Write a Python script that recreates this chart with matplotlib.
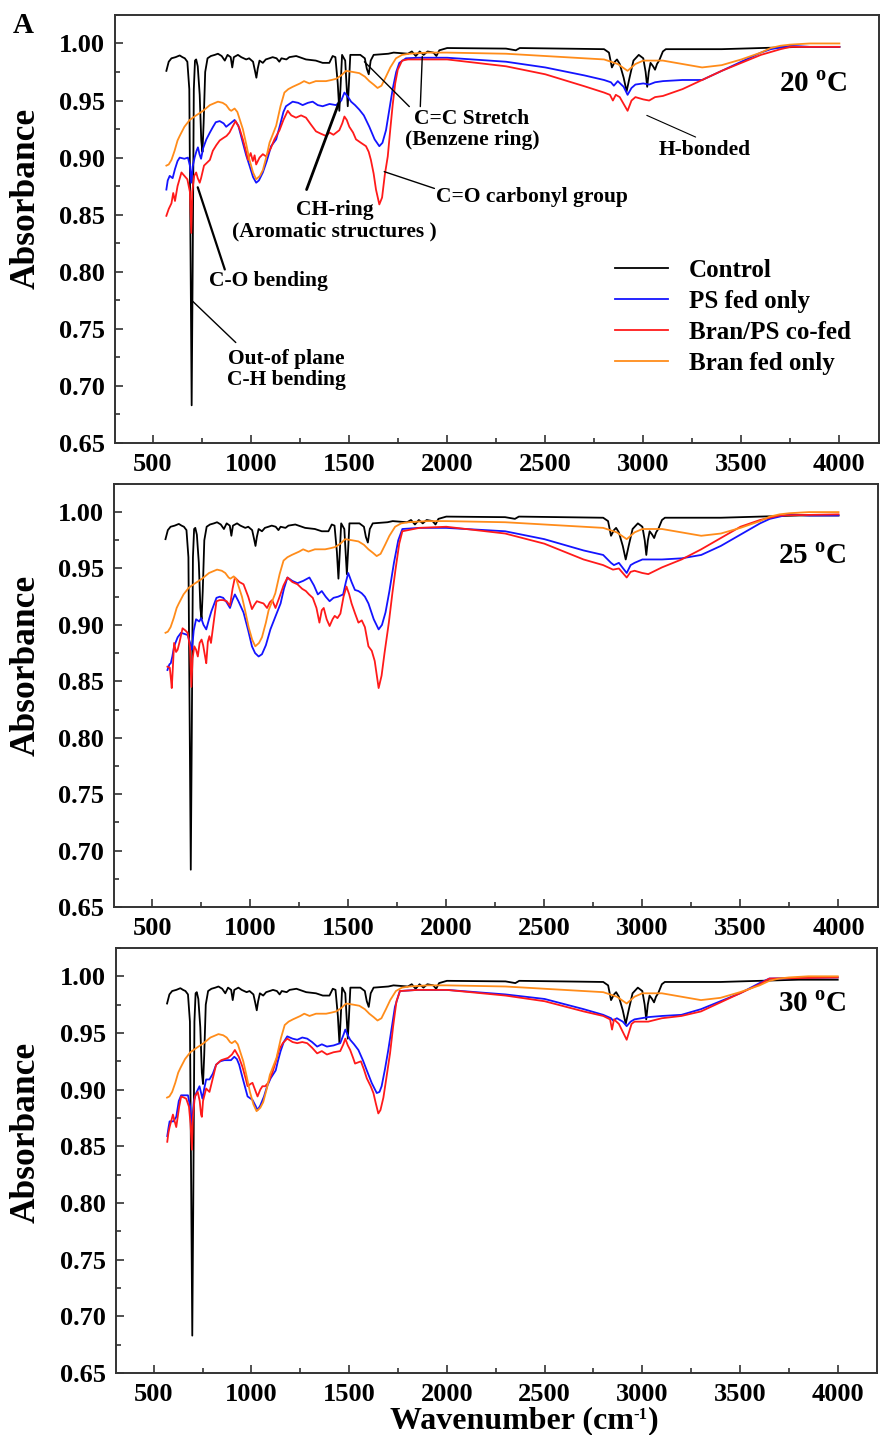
import numpy as np
import matplotlib
matplotlib.use('Agg')
import matplotlib.pyplot as plt
from matplotlib.ticker import MultipleLocator

plt.rcParams['font.family'] = ['Liberation Serif', 'DejaVu Serif']
plt.rcParams['font.weight'] = 'bold'
plt.rcParams['mathtext.fontset'] = 'custom'
plt.rcParams['mathtext.rm'] = 'Liberation Serif:bold'
plt.rcParams['mathtext.bf'] = 'Liberation Serif:bold'

# --- spectra: (wavenumber, absorbance) ---
control = np.array([
    [568, 0.976], [580, 0.984], [594, 0.987], [615, 0.988], [636, 0.9895], [650, 0.988],
    [662, 0.987], [675, 0.984], [685, 0.960], [692, 0.80], [697, 0.683], [702, 0.80],
    [708, 0.960], [714, 0.985], [720, 0.986], [728, 0.980], [738, 0.955], [746, 0.915],
    [752, 0.905], [758, 0.930], [766, 0.975], [778, 0.987], [795, 0.989], [815, 0.990],
    [831, 0.991], [850, 0.989], [866, 0.985], [880, 0.990], [896, 0.988], [904, 0.979],
    [912, 0.988], [933, 0.990], [950, 0.988], [975, 0.986], [990, 0.987], [1010, 0.984],
    [1020, 0.976], [1027, 0.970], [1034, 0.978], [1043, 0.985], [1060, 0.983], [1075, 0.986],
    [1093, 0.987], [1110, 0.988], [1130, 0.987], [1144, 0.984], [1155, 0.987], [1180, 0.986],
    [1195, 0.988], [1230, 0.989], [1280, 0.986], [1330, 0.985], [1365, 0.983], [1399, 0.983],
    [1416, 0.989], [1430, 0.988], [1442, 0.965], [1450, 0.941], [1457, 0.965], [1464, 0.990],
    [1480, 0.985], [1488, 0.960], [1493, 0.945], [1499, 0.965], [1506, 0.990], [1530, 0.990],
    [1557, 0.990], [1580, 0.987], [1590, 0.978], [1600, 0.973], [1610, 0.985], [1625, 0.990],
    [1700, 0.991], [1727, 0.992], [1800, 0.991], [1820, 0.993], [1840, 0.989], [1860, 0.993],
    [1880, 0.990], [1900, 0.993], [1930, 0.992], [1945, 0.989], [1960, 0.994], [2000, 0.996],
    [2300, 0.9955], [2350, 0.994], [2370, 0.996], [2800, 0.995], [2825, 0.992], [2840, 0.979],
    [2855, 0.984], [2866, 0.986], [2880, 0.982], [2900, 0.970], [2915, 0.958], [2930, 0.970],
    [2950, 0.985], [2977, 0.990], [3000, 0.987], [3012, 0.975], [3020, 0.962], [3028, 0.975],
    [3037, 0.983], [3050, 0.980], [3060, 0.977], [3070, 0.982], [3081, 0.985], [3100, 0.993],
    [3115, 0.995], [3400, 0.995], [3600, 0.996], [3800, 0.997], [4000, 0.997],
])

bran_only = np.array([
    [568, 0.893], [580, 0.894], [594, 0.898], [610, 0.906], [625, 0.915], [636, 0.919],
    [660, 0.927], [687, 0.933], [720, 0.937], [755, 0.941], [790, 0.946], [831, 0.949],
    [855, 0.948], [873, 0.946], [890, 0.942], [899, 0.941], [916, 0.943], [930, 0.940],
    [958, 0.925], [975, 0.912], [992, 0.898], [1010, 0.887], [1026, 0.881], [1045, 0.884],
    [1060, 0.889], [1080, 0.902], [1094, 0.913], [1110, 0.920], [1128, 0.928], [1150, 0.945],
    [1170, 0.957], [1190, 0.960], [1212, 0.962], [1250, 0.965], [1270, 0.967], [1297, 0.965],
    [1330, 0.967], [1382, 0.967], [1410, 0.968], [1433, 0.969], [1460, 0.972], [1484, 0.976],
    [1520, 0.975], [1552, 0.974], [1580, 0.971], [1603, 0.967], [1625, 0.964], [1645, 0.961],
    [1665, 0.963], [1688, 0.971], [1710, 0.979], [1739, 0.987], [1770, 0.990], [1807, 0.991],
    [1900, 0.992], [2000, 0.992], [2300, 0.991], [2500, 0.989], [2700, 0.987], [2800, 0.986],
    [2870, 0.982], [2920, 0.976], [2960, 0.982], [3000, 0.985], [3100, 0.985], [3200, 0.982],
    [3300, 0.979], [3400, 0.981], [3500, 0.986], [3600, 0.992], [3650, 0.996], [3700, 0.998],
    [3750, 0.999], [3850, 1.000], [4000, 1.000],
])

ps_20 = np.array([
    [568, 0.872], [575, 0.880], [585, 0.884], [600, 0.882], [612, 0.890], [625, 0.897],
    [636, 0.900], [660, 0.899], [678, 0.900], [688, 0.893], [695, 0.878], [702, 0.892],
    [712, 0.900], [722, 0.906], [729, 0.909], [737, 0.903], [745, 0.899], [755, 0.908],
    [772, 0.916], [790, 0.922], [806, 0.927], [820, 0.931], [840, 0.932], [860, 0.930],
    [873, 0.927], [895, 0.930], [916, 0.933], [935, 0.928], [958, 0.913], [975, 0.902],
    [992, 0.893], [1010, 0.883], [1026, 0.878], [1040, 0.880], [1060, 0.887], [1080, 0.897],
    [1102, 0.910], [1115, 0.913], [1128, 0.916], [1150, 0.930], [1165, 0.940], [1178, 0.945],
    [1195, 0.947], [1212, 0.949], [1240, 0.948], [1263, 0.946], [1290, 0.948], [1314, 0.949],
    [1340, 0.946], [1365, 0.945], [1400, 0.947], [1433, 0.946], [1460, 0.950], [1476, 0.957],
    [1495, 0.953], [1510, 0.949], [1530, 0.946], [1552, 0.942], [1575, 0.937], [1603, 0.927],
    [1630, 0.916], [1654, 0.910], [1670, 0.913], [1688, 0.924], [1705, 0.942], [1722, 0.960],
    [1740, 0.975], [1756, 0.983], [1790, 0.987], [1850, 0.9875], [2000, 0.9875], [2300, 0.984],
    [2500, 0.979], [2700, 0.972], [2800, 0.968], [2835, 0.966], [2850, 0.963], [2870, 0.967],
    [2900, 0.962], [2920, 0.955], [2940, 0.961], [2960, 0.964], [3000, 0.965], [3030, 0.964],
    [3060, 0.966], [3100, 0.967], [3200, 0.968], [3300, 0.968], [3400, 0.976], [3500, 0.984],
    [3600, 0.992], [3650, 0.995], [3750, 0.998], [3850, 0.997], [4000, 0.997],
])

cofed_20 = np.array([
    [568, 0.849], [580, 0.855], [594, 0.860], [603, 0.869], [612, 0.862], [625, 0.875],
    [645, 0.887], [660, 0.884], [675, 0.881], [688, 0.870], [695, 0.834], [700, 0.870],
    [710, 0.884], [720, 0.887], [728, 0.882], [738, 0.878], [745, 0.882], [760, 0.893],
    [772, 0.895], [790, 0.898], [805, 0.906], [823, 0.911], [840, 0.915], [857, 0.917],
    [875, 0.919], [890, 0.922], [905, 0.927], [921, 0.932], [940, 0.926], [958, 0.916],
    [975, 0.905], [984, 0.898], [998, 0.904], [1009, 0.897], [1018, 0.902], [1026, 0.894],
    [1043, 0.900], [1060, 0.903], [1077, 0.901], [1100, 0.908], [1119, 0.916], [1145, 0.924],
    [1165, 0.933], [1187, 0.941], [1205, 0.937], [1229, 0.935], [1255, 0.937], [1280, 0.935],
    [1305, 0.929], [1331, 0.923], [1355, 0.921], [1382, 0.919], [1400, 0.922], [1420, 0.920],
    [1450, 0.924], [1465, 0.930], [1476, 0.936], [1488, 0.933], [1501, 0.927], [1520, 0.922],
    [1535, 0.916], [1560, 0.913], [1586, 0.910], [1600, 0.905], [1611, 0.898], [1625, 0.886],
    [1637, 0.872], [1654, 0.859], [1668, 0.865], [1682, 0.885], [1697, 0.901], [1710, 0.925],
    [1722, 0.946], [1735, 0.965], [1748, 0.977], [1770, 0.985], [1800, 0.986], [2000, 0.986],
    [2300, 0.980], [2500, 0.973], [2700, 0.9625], [2800, 0.957], [2830, 0.955], [2845, 0.950],
    [2860, 0.955], [2880, 0.953], [2920, 0.941], [2940, 0.950], [2960, 0.953], [3000, 0.951],
    [3030, 0.950], [3060, 0.953], [3100, 0.954], [3200, 0.960], [3300, 0.968], [3400, 0.976],
    [3500, 0.983], [3600, 0.990], [3700, 0.995], [3750, 0.997], [4000, 0.997],
])

ps_25 = np.array([
    [578, 0.860], [588, 0.865], [595, 0.866], [603, 0.872], [612, 0.881], [630, 0.889],
    [647, 0.893], [665, 0.892], [681, 0.891], [692, 0.885], [703, 0.878], [712, 0.895],
    [724, 0.905], [740, 0.903], [750, 0.906], [762, 0.900], [776, 0.896], [790, 0.905],
    [802, 0.912], [815, 0.918], [828, 0.924], [845, 0.925], [862, 0.924], [880, 0.920],
    [897, 0.915], [910, 0.922], [922, 0.927], [940, 0.921], [966, 0.911], [990, 0.895],
    [1009, 0.881], [1025, 0.875], [1043, 0.872], [1060, 0.874], [1080, 0.882], [1103, 0.896],
    [1130, 0.908], [1155, 0.919], [1172, 0.932], [1190, 0.942], [1215, 0.939], [1241, 0.937],
    [1270, 0.939], [1302, 0.942], [1325, 0.935], [1345, 0.927], [1365, 0.930], [1385, 0.925],
    [1405, 0.921], [1425, 0.924], [1448, 0.925], [1474, 0.927], [1488, 0.938], [1500, 0.946],
    [1517, 0.938], [1534, 0.931], [1552, 0.930], [1569, 0.928], [1585, 0.925], [1603, 0.919],
    [1630, 0.905], [1655, 0.896], [1672, 0.900], [1690, 0.911], [1710, 0.930], [1733, 0.955],
    [1755, 0.975], [1776, 0.985], [1862, 0.986], [2000, 0.986], [2300, 0.983], [2500, 0.976],
    [2700, 0.966], [2800, 0.962], [2840, 0.955], [2855, 0.953], [2880, 0.955], [2920, 0.946],
    [2940, 0.953], [2960, 0.955], [3000, 0.958], [3100, 0.958], [3200, 0.959], [3300, 0.962],
    [3400, 0.970], [3500, 0.980], [3600, 0.990], [3650, 0.994], [3750, 0.998], [3850, 0.997],
    [4000, 0.997],
])

cofed_25 = np.array([
    [578, 0.863], [590, 0.862], [597, 0.850], [600, 0.844], [605, 0.860], [612, 0.884],
    [622, 0.876], [630, 0.878], [640, 0.885], [655, 0.897], [670, 0.895], [681, 0.893],
    [693, 0.880], [700, 0.845], [706, 0.870], [715, 0.881], [724, 0.878], [733, 0.872],
    [742, 0.884], [752, 0.887], [760, 0.882], [770, 0.872], [776, 0.866], [784, 0.885],
    [792, 0.890], [800, 0.884], [812, 0.900], [828, 0.921], [845, 0.922], [862, 0.922],
    [880, 0.921], [897, 0.917], [910, 0.932], [922, 0.942], [945, 0.938], [966, 0.936],
    [990, 0.925], [1009, 0.914], [1022, 0.918], [1034, 0.921], [1050, 0.920], [1068, 0.919],
    [1086, 0.915], [1100, 0.920], [1112, 0.922], [1129, 0.915], [1150, 0.925], [1170, 0.935],
    [1190, 0.942], [1215, 0.938], [1241, 0.936], [1265, 0.932], [1284, 0.930], [1300, 0.927],
    [1319, 0.924], [1338, 0.915], [1353, 0.902], [1365, 0.913], [1375, 0.915], [1390, 0.905],
    [1405, 0.899], [1420, 0.905], [1431, 0.908], [1445, 0.906], [1460, 0.910], [1476, 0.925],
    [1491, 0.934], [1505, 0.927], [1517, 0.919], [1535, 0.910], [1552, 0.902], [1569, 0.904],
    [1585, 0.898], [1603, 0.881], [1620, 0.877], [1635, 0.868], [1655, 0.844], [1670, 0.855],
    [1685, 0.875], [1707, 0.902], [1725, 0.928], [1741, 0.949], [1760, 0.972], [1776, 0.983],
    [1862, 0.986], [2000, 0.987], [2300, 0.981], [2500, 0.972], [2700, 0.958], [2800, 0.953],
    [2850, 0.949], [2880, 0.950], [2920, 0.942], [2940, 0.947], [2960, 0.948], [3000, 0.946],
    [3030, 0.945], [3100, 0.951], [3200, 0.958], [3300, 0.967], [3400, 0.977], [3500, 0.987],
    [3600, 0.993], [3700, 0.997], [4000, 0.998],
])

ps_30 = np.array([
    [569, 0.859], [575, 0.866], [581, 0.872], [600, 0.872], [615, 0.876], [628, 0.890],
    [640, 0.895], [660, 0.895], [675, 0.895], [686, 0.885], [695, 0.869], [705, 0.890],
    [717, 0.897], [734, 0.903], [745, 0.895], [750, 0.892], [757, 0.900], [768, 0.909],
    [785, 0.909], [802, 0.914], [819, 0.922], [840, 0.925], [861, 0.926], [895, 0.926],
    [912, 0.929], [925, 0.927], [937, 0.922], [955, 0.910], [980, 0.894], [1005, 0.891],
    [1020, 0.886], [1031, 0.882], [1045, 0.886], [1064, 0.894], [1080, 0.903], [1098, 0.910],
    [1124, 0.917], [1135, 0.925], [1149, 0.934], [1165, 0.942], [1183, 0.947], [1210, 0.945],
    [1234, 0.944], [1260, 0.946], [1285, 0.945], [1310, 0.942], [1336, 0.938], [1360, 0.940],
    [1386, 0.938], [1420, 0.939], [1454, 0.941], [1470, 0.948], [1480, 0.953], [1493, 0.948],
    [1505, 0.944], [1525, 0.940], [1547, 0.935], [1570, 0.926], [1590, 0.917], [1615, 0.906],
    [1641, 0.897], [1655, 0.898], [1666, 0.903], [1683, 0.918], [1700, 0.935], [1718, 0.955],
    [1734, 0.973], [1759, 0.987], [1850, 0.988], [2000, 0.988], [2300, 0.984], [2500, 0.980],
    [2700, 0.971], [2800, 0.966], [2840, 0.963], [2850, 0.961], [2870, 0.963], [2900, 0.960],
    [2920, 0.956], [2940, 0.960], [2960, 0.962], [3030, 0.964], [3100, 0.965], [3200, 0.966],
    [3300, 0.971], [3400, 0.978], [3500, 0.985], [3600, 0.994], [3650, 0.998], [4000, 0.999],
])

cofed_30 = np.array([
    [569, 0.854], [575, 0.862], [581, 0.867], [598, 0.878], [607, 0.872], [615, 0.867],
    [630, 0.885], [640, 0.894], [655, 0.893], [666, 0.892], [680, 0.885], [688, 0.870],
    [695, 0.847], [700, 0.875], [710, 0.894], [725, 0.898], [735, 0.890], [742, 0.878],
    [746, 0.876], [752, 0.890], [768, 0.901], [785, 0.898], [795, 0.905], [819, 0.922],
    [845, 0.926], [880, 0.928], [900, 0.931], [915, 0.935], [935, 0.929], [954, 0.920],
    [970, 0.910], [980, 0.903], [995, 0.905], [1005, 0.906], [1018, 0.900], [1031, 0.894],
    [1045, 0.900], [1056, 0.903], [1070, 0.903], [1085, 0.906], [1107, 0.915], [1125, 0.925],
    [1141, 0.935], [1160, 0.941], [1183, 0.945], [1210, 0.942], [1234, 0.941], [1260, 0.942],
    [1285, 0.941], [1310, 0.937], [1336, 0.932], [1360, 0.934], [1386, 0.931], [1420, 0.933],
    [1454, 0.934], [1470, 0.940], [1480, 0.945], [1493, 0.939], [1505, 0.935], [1520, 0.928],
    [1530, 0.923], [1545, 0.924], [1560, 0.925], [1575, 0.918], [1590, 0.910], [1610, 0.903],
    [1624, 0.897], [1636, 0.888], [1649, 0.879], [1660, 0.882], [1675, 0.893], [1690, 0.910],
    [1709, 0.932], [1725, 0.956], [1742, 0.978], [1760, 0.987], [1850, 0.988], [2000, 0.988],
    [2300, 0.983], [2500, 0.978], [2700, 0.969], [2800, 0.965], [2835, 0.962], [2845, 0.953],
    [2855, 0.962], [2880, 0.958], [2920, 0.944], [2945, 0.958], [2960, 0.960], [3030, 0.960],
    [3100, 0.963], [3200, 0.965], [3300, 0.969], [3400, 0.977], [3500, 0.985], [3600, 0.993],
    [3650, 0.998], [4000, 0.999],
])

temps = ['20', '25', '30']
ps_series = [ps_20, ps_25, ps_30]
cofed_series = [cofed_20, cofed_25, cofed_30]
labels = ['Control', 'PS fed only', 'Bran/PS co-fed', 'Bran fed only']
colors = ['black', '#1414ff', '#ff1a1a', '#ff8c1a']

W, H = 883, 1435
# axes boxes in figure fractions [left, bottom, width, height]
boxes = [[0.130, 0.6913, 0.865, 0.2983],
         [0.129, 0.3680, 0.865, 0.2948],
         [0.131, 0.0432, 0.862, 0.2962]]
temp_y = [0.964, 0.961, 0.975]
ylab_y = [1 - 198 / H, 1 - 665 / H, 1 - 1132 / H]

fig = plt.figure(figsize=(W / 100, H / 100), dpi=100)
axes = []
for i in range(3):
    ax = fig.add_axes(boxes[i])
    axes.append(ax)
    series = [control, ps_series[i], cofed_series[i], bran_only]
    for s, c, lab in zip(series, colors, labels):
        ax.plot(s[:, 0], s[:, 1], color=c, lw=1.3, label=lab)
    ax.set_xlim(305, 4200)
    ax.set_ylim(0.65, 1.025)
    ax.xaxis.set_minor_locator(MultipleLocator(250))
    ax.yaxis.set_major_locator(MultipleLocator(0.05))
    ax.yaxis.set_minor_locator(MultipleLocator(0.025))
    ax.set_xticks(np.arange(500, 4001, 500))
    ax.yaxis.set_major_formatter(plt.FormatStrFormatter('%.2f'))
    ax.tick_params(which='both', direction='in', top=False, right=False,
                   labelsize=19, color='#333333')
    ax.tick_params(which='major', length=6, width=1.2, pad=7)
    ax.tick_params(which='minor', length=3.5, width=1.2)
    for sp in ax.spines.values():
        sp.set_linewidth(1.4)
        sp.set_color('#333333')
    ax.text(3868, temp_y[i], temps[i] + r' $^{\mathbf{o}}$C', fontsize=21,
            fontweight='bold', ha='center', va='center')
    fig.text(0.03, ylab_y[i], 'Absorbance', rotation=90, fontsize=25.5,
             fontweight='bold', ha='center', va='center')

ax1 = axes[0]
ax1.legend(loc='upper left', bbox_to_anchor=(0.639, 0.46), frameon=False,
           fontsize=18, handlelength=2.1, handletextpad=0.85, labelspacing=0.32,
           borderpad=0)

# annotation leaders (start, end) and texts for the 20 oC panel
leaders = [((1807, 0.9447), (1578, 0.984)),
           ((1863, 0.9447), (1873, 0.9886)),
           ((1283, 0.872), (1450, 0.949)),
           ((1935, 0.873), (1679, 0.8877)),
           ((3267, 0.918), (3018, 0.937)),
           ((866, 0.802), (728, 0.874)),
           ((922, 0.738), (703, 0.774))]
leader_w = [1.0, 1.0, 2.0, 1.0, 0.8, 1.6, 1.0]
for (p0, p1), w in zip(leaders, leader_w):
    ax1.annotate('', xy=p1, xytext=p0,
                 arrowprops=dict(arrowstyle='-', color='black', lw=w,
                                 shrinkA=0, shrinkB=0))

notes = [(2127, 0.9246, 'C=C Stretch\n(Benzene ring)', 'center'),
         (1425, 0.8448, 'CH-ring\n(Aromatic structures )', 'center'),
         (1943, 0.8658, 'C=O carbonyl group', 'left'),
         (3313, 0.907, 'H-bonded', 'center'),
         (1089, 0.792, 'C-O bending', 'center'),
         (1181, 0.7145, 'Out-of plane\nC-H bending', 'center')]
for x, y, t, ha in notes:
    ax1.text(x, y, t, fontsize=15.5, fontweight='bold', ha=ha, va='center',
             multialignment='center', linespacing=1.1)

fig.text(0.014, 0.982, 'A', fontsize=21, fontweight='bold', ha='left', va='center')

# x label with a small raised "-1", built from three pieces
parts = [('Wavenumber (cm', 23, 0), ('-1', 12, 9), (')', 23, 0)]
fig.canvas.draw()
rend = fig.canvas.get_renderer()
pieces = []
for txt, fs, dy in parts:
    t = fig.text(0, 0, txt, fontsize=fs, fontweight='bold', ha='left', va='baseline')
    pieces.append((t, t.get_window_extent(rend).width, dy))
total = sum(p[1] for p in pieces)
xpix = 524 - total / 2
base = H - 1428
for t, w, dy in pieces:
    t.set_position((xpix / W, (base + dy) / H))
    xpix += w

fig.savefig('out.png', dpi=100)
